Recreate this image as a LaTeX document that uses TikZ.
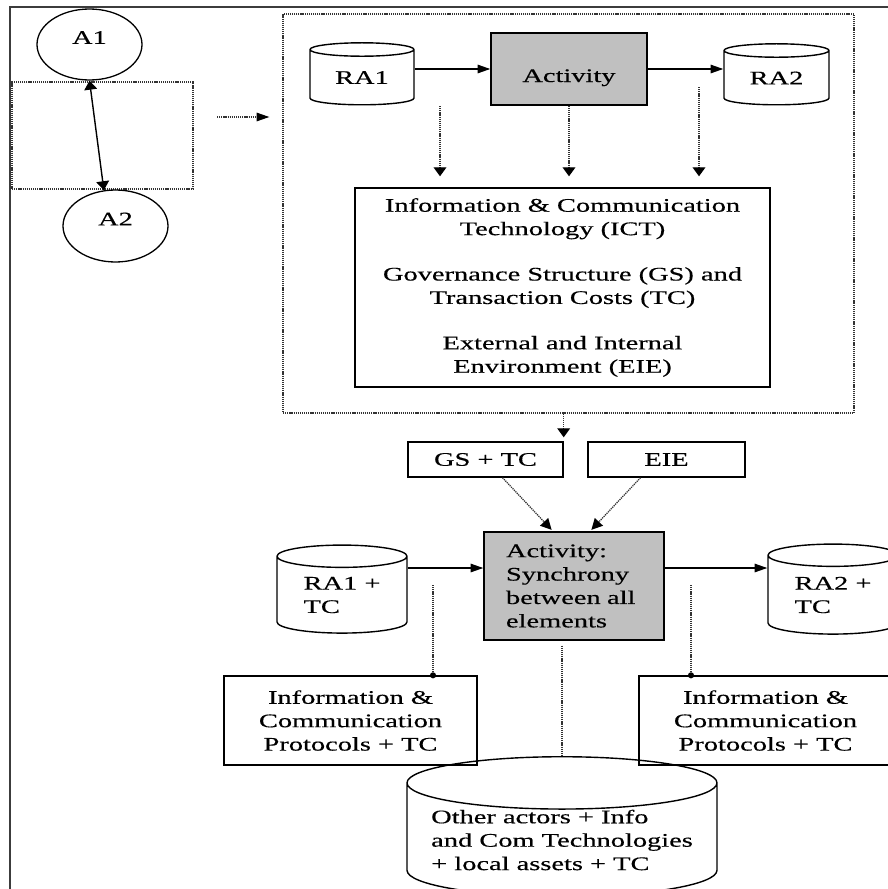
\documentclass[tikz,border=0pt]{standalone}
\usepackage{fontspec}
\setmainfont{Liberation Serif}[FakeStretch=1.48, FakeBold=0.4]
\usepackage{tikz}
\usetikzlibrary{arrows.meta, calc, shapes.geometric}
\definecolor{framegray}{HTML}{3C3C3C}
\definecolor{dotgray}{HTML}{333333}
\definecolor{actfill}{HTML}{C0C0C0}

\begin{document}
\begin{tikzpicture}[x=1pt, y=-1pt,
    every node/.style={font=\fontsize{19.2pt}{23.4pt}\selectfont},
    bx/.style={rectangle, draw=black, line width=1.4pt, inner sep=0pt, align=center},
    actbox/.style={bx, fill=actfill},
    db/.style={cylinder, shape border rotate=90, draw=black, line width=1.4pt, inner sep=0pt, align=left},
    actor/.style={ellipse, draw=black, line width=1.3pt, inner sep=0pt, text depth=14pt},
    grp/.style={rectangle, draw=dotgray, line width=1.3pt, dash pattern=on 1.2pt off 0.9pt},
    sol/.style={black, line width=1.4pt},
    dotln/.style={dotgray, line width=1.3pt, dash pattern=on 1.2pt off 0.9pt},
    htip/.style={-{Triangle[length=12.75pt, width=8.5pt, color=black]}},
    vtip/.style={-{Triangle[length=9pt, width=12.75pt, color=black]}},
    dtip/.style={-{Triangle[length=11pt, width=11pt, color=black]}},
    pin/.style={-{Circle[length=6pt, color=black]}, shorten >=-3pt}]
    \useasboundingbox (0,0) rectangle (888,889);
    \clip (0,0) rectangle (888,889);
    % outer frame
    \draw[framegray, line width=1.6pt] (10,889) -- (10,7) -- (888,7);

    % actors
    \node[grp, minimum width=181pt, minimum height=107pt] (grpA) at (102.5,135.5) {};
    \node[actor, minimum width=105pt, minimum height=71pt] (A1) at (89.5,44.5) {A1};
    \node[actor, minimum width=105pt, minimum height=72pt] (A2) at (115.5,226) {A2};
    \draw[sol, {Triangle[length=9pt, width=12.75pt]}-{Triangle[length=9pt, width=12.75pt]}] (A1.south) -- (A2.108);

    % zoomed view
    \node[grp, minimum width=571pt, minimum height=399pt] (grpB) at (568.5,213.5) {};
    \coordinate (s1) at (217,117);
    \draw[dotln, htip, shorten >=13pt] (s1) -- (s1 -| grpB.west);

    \node[db, aspect=0.25, minimum width=104pt, minimum height=62pt] (ra1) at (362,77.5) {RA1};
    \node[actbox, minimum width=156pt, minimum height=72pt, text height=30pt, text depth=4pt] (act) at (569,69) {Activity};
    \node[db, aspect=0.25, minimum width=105pt, minimum height=61pt] (ra2) at (776.5,78) {RA2};
    \draw[sol, htip] (ra1.east |- act.west) -- (act.west);
    \draw[sol, htip] (act.east) -- (ra2.west |- act.east);

    \node[bx, minimum width=415pt, minimum height=199pt] (ict) at (562.5,287.5) {Information \& Communication\\Technology (ICT)\\[22pt]Governance Structure (GS) and\\Transaction Costs (TC)\\[22pt]External and Internal\\Environment (EIE)};
    \coordinate (d1) at (440,106);
    \coordinate (d3) at (699,87);
    \draw[dotln, vtip, shorten >=11pt] (d1) -- (d1 |- ict.north);
    \draw[dotln, vtip, shorten >=11pt] (act.south) -- (act.south |- ict.north);
    \draw[dotln, vtip, shorten >=11pt] (d3) -- (d3 |- ict.north);

    % synchrony level
    \node[bx, minimum width=155pt, minimum height=35pt] (gstc) at (485.5,459.5) {GS + TC};
    \node[bx, minimum width=157pt, minimum height=35pt] (eie) at (666.5,459.5) {EIE};
    \draw[dotln, vtip, shorten >=4pt] (grpB.south -| gstc.north east) -- (gstc.north east);

    \node[actbox, minimum width=180pt, minimum height=108pt, text width=136pt, align=left] (sync) at (574,586) {Activity:\\Synchrony\\between all\\elements};
    \draw[dotln, dtip, shorten >=2pt] ([xshift=17pt]gstc.south) -- ([xshift=-21pt]sync.north);
    \draw[dotln, dtip, shorten >=2pt] ([xshift=-26pt]eie.south) -- ([xshift=16pt]sync.north);

    \node[db, aspect=0.29, minimum width=130pt, minimum height=88pt] (ra1tc) at (342,595) {RA1 +\\TC};
    \node[db, aspect=0.29, minimum width=130pt, minimum height=90pt] (ra2tc) at (833,595) {RA2 +\\TC};
    \draw[sol, htip] (ra1tc.east |- 0,568) -- (sync.west |- 0,568);
    \draw[sol, htip] (sync.east |- 0,568) -- (ra2tc.west |- 0,568);

    \node[bx, minimum width=253pt, minimum height=89pt] (icpL) at (350.5,720.5) {Information \&\\Communication\\Protocols + TC};
    \node[bx, minimum width=253pt, minimum height=89pt] (icpR) at (765.5,720.5) {Information \&\\Communication\\Protocols + TC};
    \coordinate (p1) at (433,585);
    \coordinate (p2) at (691,585);
    \draw[dotln, pin] (p1) -- (p1 |- icpL.north);
    \draw[dotln, pin] (p2) -- (p2 |- icpR.north);

    \node[db, aspect=0.2, minimum width=310pt, minimum height=130pt] (other) at (562,840) {Other actors + Info\\and Com Technologies\\+ local assets + TC};
    \draw[dotln, shorten <=5pt] (other.north |- sync.south) -- (other.north);
\end{tikzpicture}
\end{document}
